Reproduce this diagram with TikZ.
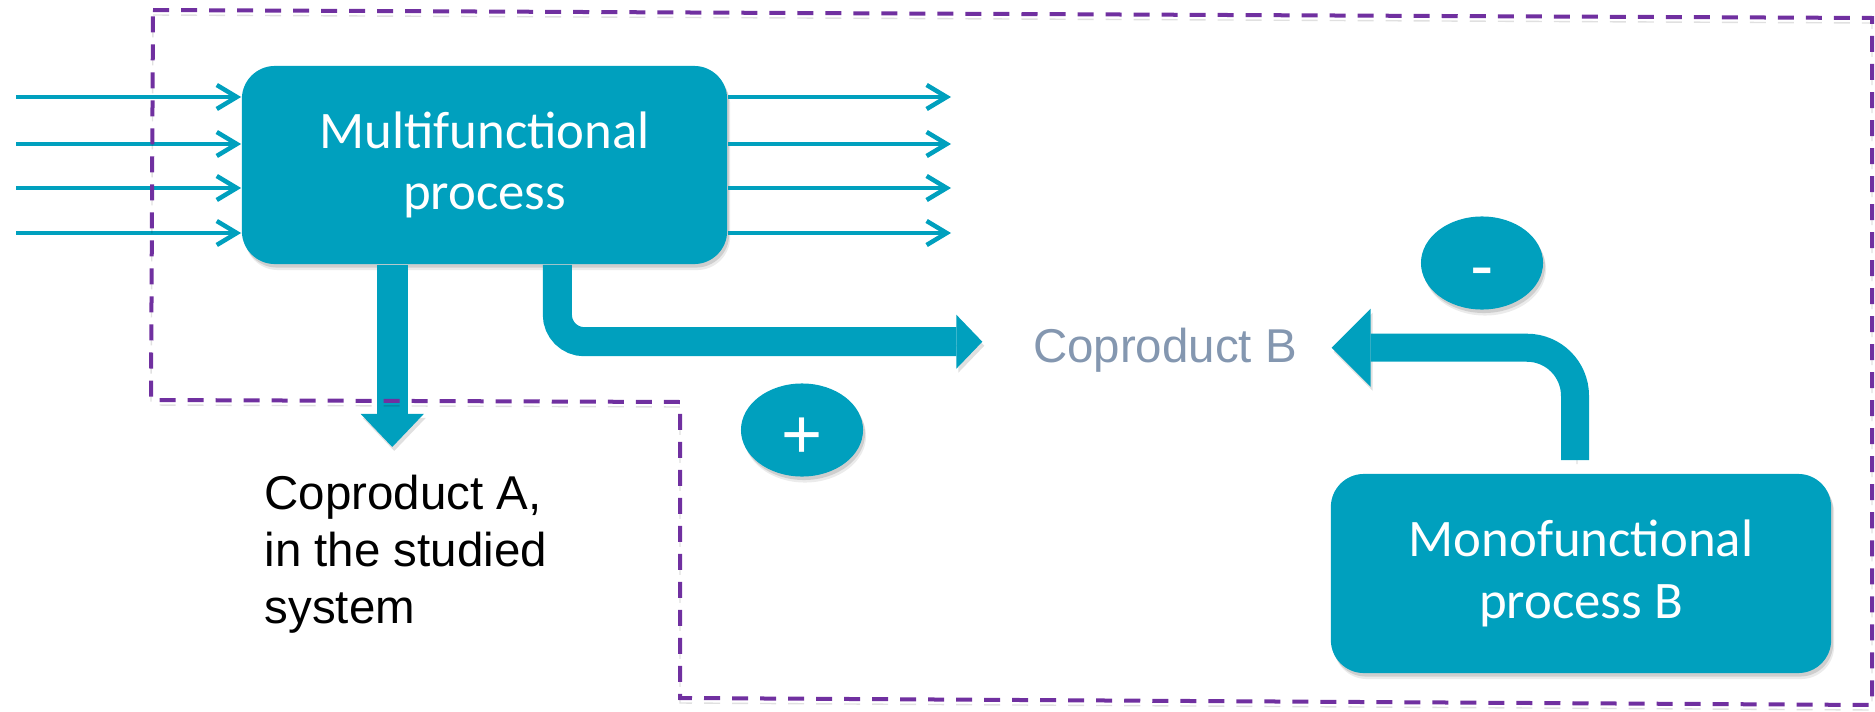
\documentclass[tikz,border=0pt]{standalone}
\usepackage{fontspec}
\setmainfont{Liberation Sans}
\newfontfamily\calibri{Carlito}
\usepackage{tikz}
\usetikzlibrary{arrows.meta, calc, shapes.geometric}

\definecolor{procblue}{HTML}{00A0BE}
\definecolor{sysviolet}{HTML}{7030A0}
\definecolor{cogray}{HTML}{8497B0}

\begin{document}
\begin{tikzpicture}[x=0.01cm, y=-0.01cm,
    shadowed/.style={preaction={fill=black, fill opacity=0.08, transform canvas={xshift=0.03cm,yshift=-0.06cm}},
        preaction={fill=black, fill opacity=0.12, transform canvas={xshift=0.02cm,yshift=-0.035cm}}},
    process/.style={rectangle, rounded corners=0.33cm, fill=procblue, text=white, shadowed,
        align=center, inner sep=0pt, font=\calibri\fontsize{15pt}{17.4pt}\selectfont},
    sign/.style={ellipse, fill=procblue, text=white, minimum width=1.22cm, minimum height=0.93cm, shadowed,
        inner sep=0pt, font=\fontsize{20pt}{20pt}\selectfont, text depth=0cm},
    coname/.style={inner sep=0pt, font=\fontsize{13.5pt}{16.2pt}\selectfont},
    flow/.style={draw=procblue, line width=0.29cm,
        preaction={draw=black, opacity=0.12, transform canvas={xshift=0.02cm,yshift=-0.04cm}}},
    line/.style={procblue, line width=0.045cm, -{Straight Barb[length=0.2cm,width=0.24cm]}},
    system/.style={draw=sysviolet, line width=0.04cm, dash pattern=on 0.16cm off 0.12cm,
        preaction={draw=black, opacity=0.12, dash pattern=on 0.16cm off 0.12cm, transform canvas={yshift=-0.05cm}}}]
    \useasboundingbox (0,0) rectangle (1875,712);

    \node[process, minimum width=4.85cm, minimum height=1.98cm] (M) at (484.5,165) {Multifunctional\\process};
    \node[process, minimum width=5cm, minimum height=1.99cm] (MB) at (1581,573.5) {Monofunctional\\process B};
    \node[coname, anchor=base, text=cogray] (B) at (1165,362) {Coproduct B};
    \node[coname, anchor=north west, align=left] (A) at (264,474) {Coproduct A,\\in the studied\\system};
    \node[sign, text height=0.57cm] (P) at (802,430) {+};
    \node[sign, text height=0.53cm] (N) at (1482,263) {-};

    % flows in and out of the multifunctional process
    \coordinate (i1) at (16,97);
    \coordinate (i2) at (16,144);
    \coordinate (i3) at (16,188);
    \coordinate (i4) at (16,233);
    \coordinate (o1) at (951,97);
    \coordinate (o2) at (951,144);
    \coordinate (o3) at (951,188);
    \coordinate (o4) at (951,233);

    \path[line]
    (i1) edge (i1 -| M.west)
    (i2) edge (i2 -| M.west)
    (i3) edge (i3 -| M.west)
    (i4) edge (i4 -| M.west)
    (M.east |- o1) edge (o1)
    (M.east |- o2) edge (o2)
    (M.east |- o3) edge (o3)
    (M.east |- o4) edge (o4)
    ;

    % coproducts
    \coordinate (cA) at ([xshift=1.51cm]M.south west);
    \coordinate (cB) at ([xshift=3.16cm]M.south west);
    \coordinate (sB) at ([xshift=-0.06cm,yshift=0.13cm]MB.north);
    \draw[flow, line width=0.31cm, shorten >=0.27cm, -{Triangle[width=0.63cm,length=0.33cm,line width=0pt]}]
        (cA) -- (cA |- A.north);
    \draw[flow, rounded corners=0.27cm, -{Triangle[width=0.54cm,length=0.26cm,line width=0pt]}]
        (cB) |- ([xshift=-0.5cm,yshift=0.08cm]B.west);
    \draw[flow, line width=0.28cm, rounded corners=0.48cm, -{Triangle[width=0.78cm,length=0.39cm,line width=0pt]}]
        (sB) |- ([xshift=0.34cm,yshift=0.02cm]B.east);

    % system boundary
    \draw[system] (153,10) -- (1872,18) -- (1872,705) -- (680,698) -- (680,402) -- (151,400) -- cycle;
\end{tikzpicture}
\end{document}
